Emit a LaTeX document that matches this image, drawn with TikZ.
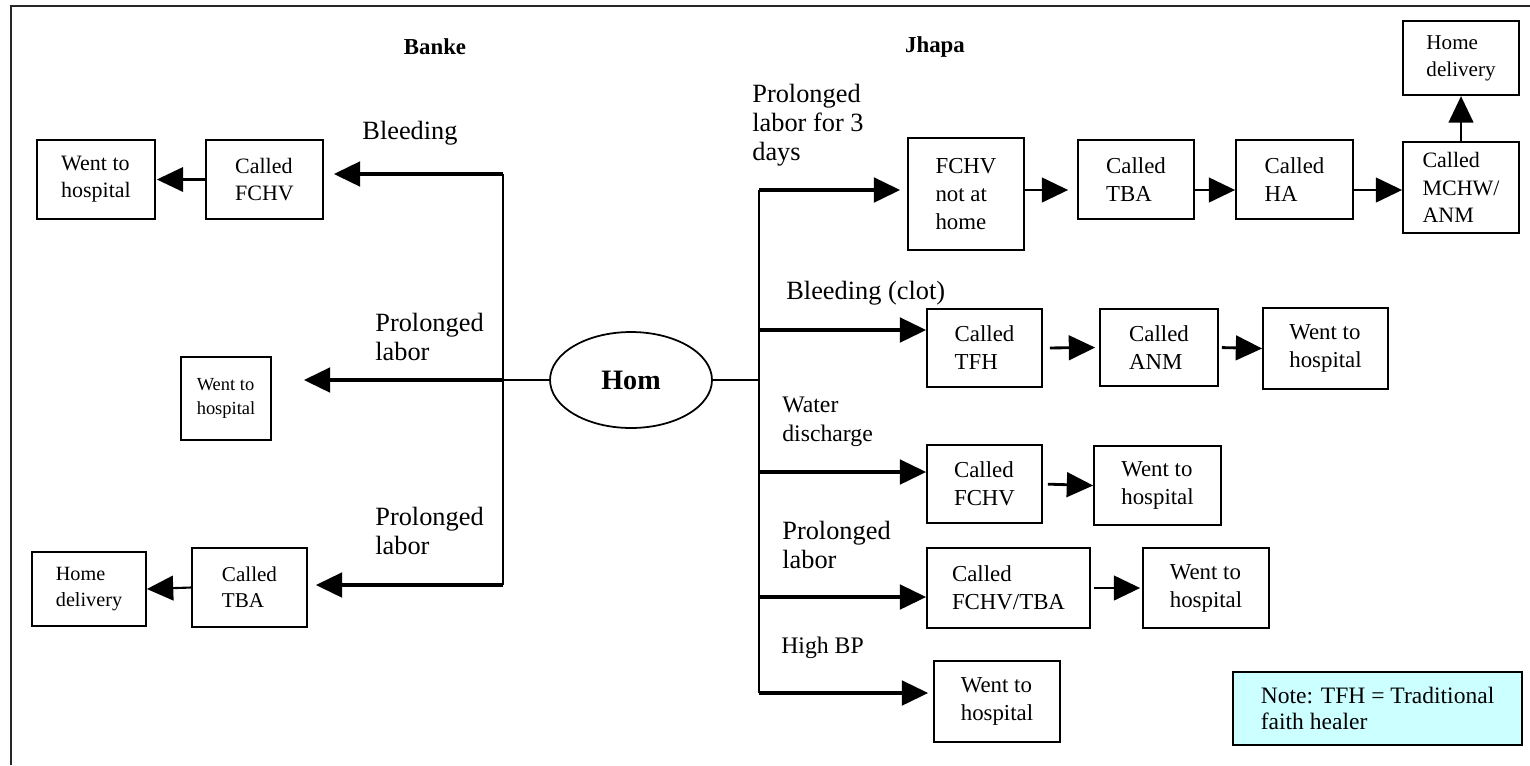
\documentclass[tikz,border=0pt]{standalone}
\usepackage{fontspec}
\setmainfont{Liberation Serif}
\usepackage{xcolor}
\usetikzlibrary{positioning, arrows.meta, shapes.geometric}
\definecolor{notecyan}{HTML}{CCFFFF}

\tikzset{
  box/.style={rectangle, draw=black, line width=1pt, align=left, inner sep=2pt, font=\fontsize{13}{16}\selectfont},
  lbl/.style={align=left, inner sep=0pt, font=\fontsize{15}{16.5}\selectfont},
  lblsmall/.style={align=left, inner sep=0pt, font=\fontsize{13.5}{16.5}\selectfont},
  heading/.style={inner sep=0pt, font=\fontsize{13}{15}\selectfont\bfseries},
  trunk/.style={line width=1.2pt},
  branch/.style={line width=2pt, -{Triangle[length=15pt,width=14pt]}},
  link/.style={line width=1.6pt, -{Triangle[length=15pt,width=14pt]}},
}

\begin{document}
\begin{tikzpicture}[x=0.02cm, y=-0.02cm]
\useasboundingbox (0,0) rectangle (1530,765);

%%% frame
\draw[line width=1.2pt, black!85] (11,765) -- (11,6) -- (1530,6);

%%% HOME
\node [ellipse, draw=black, line width=1pt, minimum width=3.24cm, minimum height=1.92cm, inner sep=0pt, font=\fontsize{16}{18}\selectfont\bfseries] (hom) at (631,380) {Hom};

%%% BANKE
\node [heading] (banke) at (435,47) {Banke};

\node [box, minimum width=2.34cm, minimum height=1.58cm, font=\fontsize{12.5}{15.5}\selectfont] (b-fchv) at (264.5,179.5) {Called\\FCHV};
\node [box, minimum width=2.36cm, minimum height=1.58cm, font=\fontsize{12.5}{15.5}\selectfont] (b-went1) at (96,179.5) {Went to\\hospital};
\node [box, minimum width=1.8cm, minimum height=1.66cm, font=\fontsize{10.5}{13.5}\selectfont] (b-went2) at (226,398.5) {Went to\\hospital};
\node [box, minimum width=2.3cm, minimum height=1.58cm, font=\fontsize{12}{15}\selectfont] (b-tba) at (249.5,587.5) {Called\\TBA};
\node [box, minimum width=2.28cm, minimum height=1.48cm, font=\fontsize{11.5}{15}\selectfont] (b-home) at (89,589) {Home\\delivery};

\node [lbl] (b-l1) at (410,133) {Bleeding};
\node [lbl, anchor=west] (b-l2) at (375,337) {Prolonged\\labor};
\node [lbl, anchor=west] (b-l3) at (375,531) {Prolonged\\labor};

\coordinate (bl-top) at (503,174);
\coordinate (bl-mid) at (503,380);
\coordinate (bl-bot) at (503,585);

%%% JHAPA
\node [heading] (jhapa) at (935,47) {Jhapa};

% prolonged labor for 3 days
\node [box, minimum width=2.32cm, minimum height=2.24cm] (j-fchv) at (966,194) {FCHV\\not at\\home};
\node [box, minimum width=2.32cm, minimum height=1.58cm] (j-tba) at (1136,179.5) {Called\\TBA};
\node [box, minimum width=2.34cm, minimum height=1.58cm] (j-ha) at (1294.5,179.5) {Called\\HA};
\node [box, minimum width=2.32cm, minimum height=1.82cm, font=\fontsize{12.5}{15.5}\selectfont] (j-mchw) at (1461,187.5) {Called\\MCHW/\\ANM};
\node [box, minimum width=2.32cm, minimum height=1.48cm, font=\fontsize{12}{15}\selectfont, above=0.9cm of j-mchw] (j-home) {Home\\delivery};

% bleeding (clot)
\node [box, minimum width=2.3cm, minimum height=1.56cm] (j-tfh) at (984.5,348) {Called\\TFH};
\node [box, minimum width=2.36cm, minimum height=1.54cm] (j-anm) at (1159,347.5) {Called\\ANM};
\node [box, minimum width=2.5cm, minimum height=1.62cm] (j-went1) at (1325.5,348.5) {Went to\\hospital};

% water discharge
\node [box, minimum width=2.3cm, minimum height=1.56cm] (j-fchv2) at (984.5,484) {Called\\FCHV};
\node [box, minimum width=2.54cm, minimum height=1.58cm] (j-went2) at (1157.5,485.5) {Went to\\hospital};

% prolonged labor
\node [box, minimum width=3.26cm, minimum height=1.6cm] (j-ft) at (1008.5,588) {Called\\FCHV/TBA};
\node [box, minimum width=2.52cm, minimum height=1.6cm] (j-went3) at (1206,588) {Went to\\hospital};

% high BP
\node [box, minimum width=2.52cm, minimum height=1.62cm] (j-went4) at (997,701.5) {Went to\\hospital};

\node [lbl, anchor=west] (j-l1) at (752,125) {Prolonged\\labor for 3\\days};
\node [lbl, anchor=west] (j-l2) at (786,293) {Bleeding (clot)};
\node [lblsmall, anchor=west] (j-l3) at (782,422) {Water\\discharge};
\node [lbl, anchor=west] (j-l4) at (782,545) {Prolonged\\labor};
\node [lblsmall, anchor=west] (j-l5) at (781,648) {High BP};

\coordinate (jr-top) at (759,190);
\coordinate (jr-mid) at (759,380);
\coordinate (jr-b2) at (759,330);
\coordinate (jr-b3) at (759,472);
\coordinate (jr-b4) at (759,597);
\coordinate (jr-b5) at (759,693);

%%% NOTE
\node [box, fill=notecyan, minimum width=5.78cm, minimum height=1.46cm, font=\fontsize{13.4}{14.8}\selectfont] (note) at (1377.5,708.5) {Note: TFH = Traditional\\faith healer};

%%% connections, arrows

% banke
\draw [trunk] (hom.west) -- (bl-mid);
\draw [trunk] (bl-top) -- (bl-bot);
\draw [branch, shorten >=0.2cm] (bl-top) -- (b-fchv.east |- bl-top);
\draw [branch, shorten >=0.64cm] (bl-mid) -- (b-went2.east |- bl-mid);
\draw [branch, shorten >=0.16cm] (bl-bot) -- (b-tba.east |- bl-bot);
\draw [link, line width=1.2pt, shorten >=0.02cm] (b-fchv.west) -- (b-went1.east);
\draw [link, line width=1.2pt] (b-tba.west) -- (b-home.east);

% jhapa
\draw [trunk] (hom.east) -- (jr-mid);
\draw [trunk] (jr-top) -- (jr-b5);
\draw [branch, shorten >=0.14cm] (jr-top) -- (j-fchv.west |- jr-top);
\draw [branch] (jr-b2) -- (j-tfh.west |- jr-b2);
\draw [branch] (jr-b3) -- (j-fchv2.west |- jr-b3);
\draw [branch] (jr-b4) -- (j-ft.west |- jr-b4);
\draw [branch, shorten >=0.1cm] (jr-b5) -- (j-went4.west |- jr-b5);

\draw [link, shorten >=0.18cm] (j-fchv.east |- jr-top) -- (j-tba.west |- jr-top);
\draw [link] (j-tba.east |- jr-top) -- (j-ha.west |- jr-top);
\draw [link] (j-ha.east |- jr-top) -- (j-mchw.west |- jr-top);
\draw [link, line width=1.2pt] (j-mchw.north) -- (j-home.south);

\draw [link, shorten <=0.14cm, shorten >=0.08cm] (j-tfh.east) -- (j-anm.west);
\draw [link, shorten <=0.06cm] (j-anm.east) -- (j-went1.west);
\draw [link, shorten <=0.1cm] (j-fchv2.east) -- (j-went2.west);
\draw [link, shorten <=0.06cm, shorten >=0.04cm] (j-ft.east) -- (j-went3.west);

\end{tikzpicture}
\end{document}
